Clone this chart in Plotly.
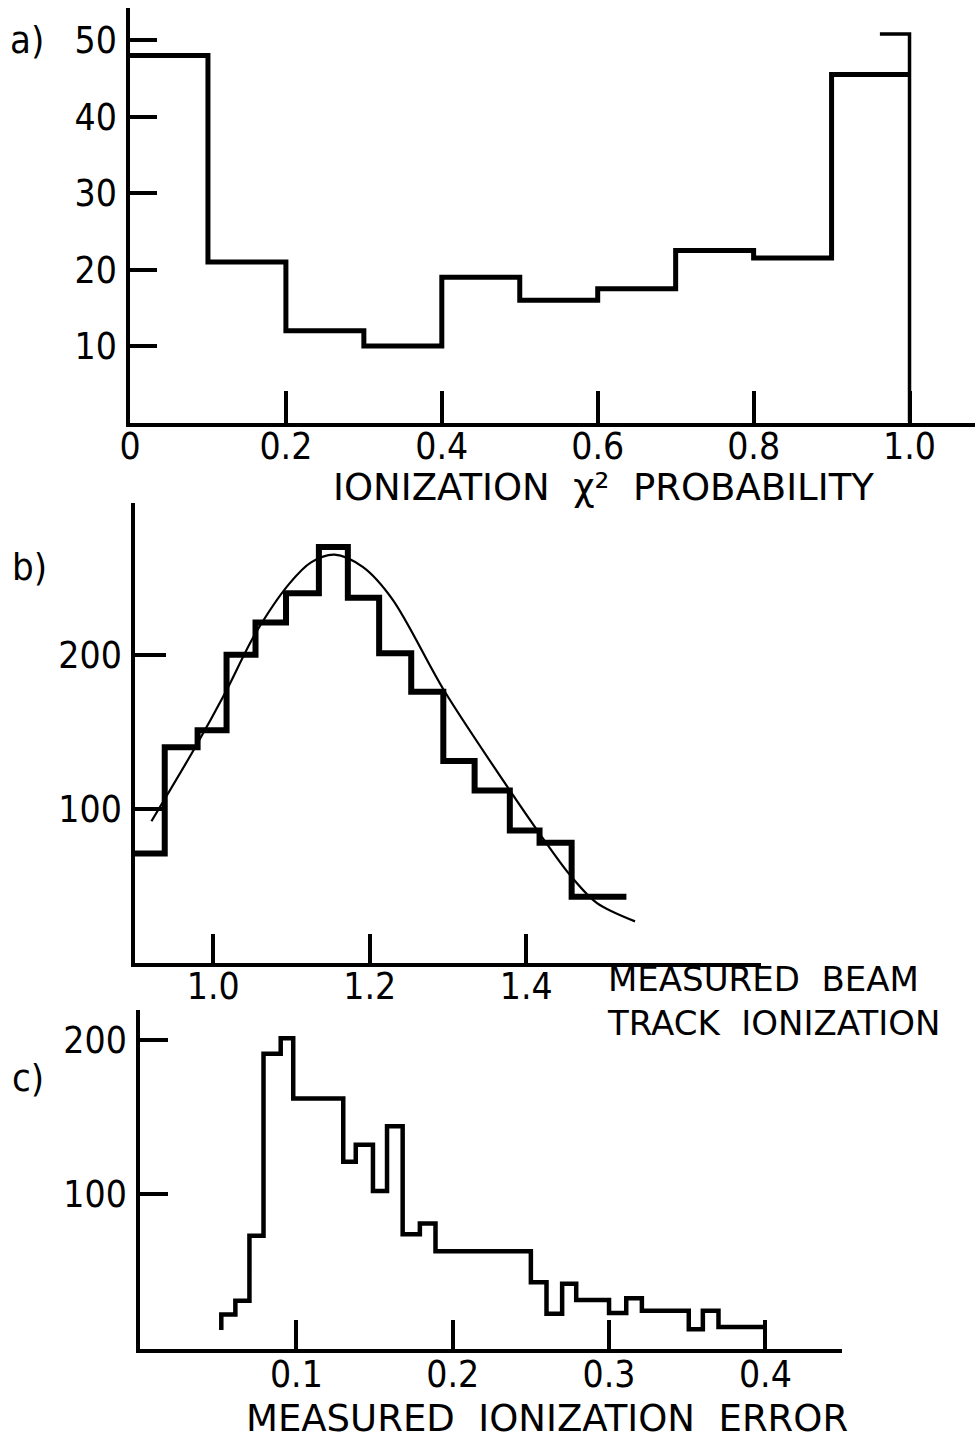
import plotly.graph_objects as go

W, H = 977, 1441
FONT = "DejaVu Sans Condensed, Liberation Sans Narrow, Arial Narrow, sans-serif"
TFONT = "DejaVu Sans, Liberation Sans, Arial, sans-serif"

# ---------- Panel a: ionization chi^2 probability ----------
a_edges = [0.0, 0.1, 0.2, 0.3, 0.4, 0.5, 0.6, 0.7, 0.8, 0.9, 1.0]
a_counts = [48, 21, 12, 10, 19, 16, 17.5, 22.5, 21.5, 45.5]
a_over_x = [1.0, 1.0, 0.962]
a_over_y = [0, 50.8, 50.8]
a_ticks = [0, 0.2, 0.4, 0.6, 0.8, 1.0]
a_ticktext = ["0", "0.2", "0.4", "0.6", "0.8", "1.0"]
a_yticks = [10, 20, 30, 40, 50]

# ---------- Panel b: measured beam track ionization ----------
b_edges = [0.900, 0.938, 0.980, 1.017, 1.054, 1.093, 1.135, 1.172, 1.212,
           1.253, 1.294, 1.334, 1.379, 1.417, 1.458, 1.528]
b_counts = [71, 140, 151, 200, 221, 240, 270, 237, 201, 176, 131, 112, 86, 78, 43]
b_fit_x = [0.921, 0.977, 1.016, 1.053, 1.097, 1.125, 1.155, 1.191, 1.229,
           1.296, 1.379, 1.417, 1.456, 1.490, 1.539]
b_fit_y = [92, 140, 176, 213, 246, 260, 265, 257, 236,
           176, 112, 84, 57, 39, 27]
b_ticks = [1.0, 1.2, 1.4]
b_ticktext = ["1.0", "1.2", "1.4"]
b_yticks = [100, 200]

# ---------- Panel c: measured ionization error ----------
c_edges = [0.052, 0.061, 0.070, 0.079, 0.090, 0.098, 0.130, 0.138, 0.149, 0.158,
           0.168, 0.179, 0.189, 0.250, 0.260, 0.270, 0.279, 0.300, 0.311, 0.321,
           0.351, 0.360, 0.370, 0.399]
c_counts = [22, 31, 73, 191, 201, 162, 121, 132, 102, 144, 74, 81, 63, 43,
            22.5, 42, 31.5, 23, 32.5, 24.5, 12.5, 24.5, 14]
c_start = 12
c_ticks = [0.1, 0.2, 0.3, 0.4]
c_ticktext = ["0.1", "0.2", "0.3", "0.4"]
c_yticks = [100, 200]


def px(x):
    return x / W


def py(y):
    return 1 - y / H


fig = go.Figure()

# panel a
fig.add_trace(go.Scatter(x=a_edges, y=a_counts + [a_counts[-1]], mode="lines",
                         line=dict(shape="hv", color="black", width=5),
                         xaxis="x", yaxis="y", showlegend=False))
fig.add_trace(go.Scatter(x=a_over_x, y=a_over_y, mode="lines",
                         line=dict(color="black", width=3.5),
                         xaxis="x", yaxis="y", showlegend=False))
# panel b
fig.add_trace(go.Scatter(x=b_edges, y=b_counts + [b_counts[-1]], mode="lines",
                         line=dict(shape="hv", color="black", width=6),
                         xaxis="x2", yaxis="y2", showlegend=False))
fig.add_trace(go.Scatter(x=b_fit_x, y=b_fit_y, mode="lines",
                         line=dict(shape="spline", smoothing=0.9, color="black", width=2.2),
                         xaxis="x2", yaxis="y2", showlegend=False))
# panel c
fig.add_trace(go.Scatter(x=[c_edges[0]] + c_edges, y=[c_start] + c_counts + [c_counts[-1]],
                         mode="lines", line=dict(shape="hv", color="black", width=4.5),
                         xaxis="x3", yaxis="y3", showlegend=False))

tickfont = dict(family=FONT, size=37, color="black")
common = dict(showline=True, linecolor="black", linewidth=3.5, ticks="inside",
              tickcolor="black", tickwidth=3.5, showgrid=False, zeroline=False,
              tickfont=tickfont, fixedrange=True, automargin=False)

fig.update_layout(
    width=W, height=H, margin=dict(l=0, r=0, t=0, b=0, autoexpand=False),
    paper_bgcolor="white", plot_bgcolor="white", showlegend=False,
    xaxis=dict(domain=[px(130), px(975)], range=[0, 1.084], anchor="y",
               tickvals=a_ticks, ticktext=a_ticktext, ticklen=32,
               ticklabelstandoff=-12, **common),
    yaxis=dict(domain=[py(422.5), py(8)], range=[0, 54.2], anchor="x",
               tickvals=a_yticks, ticklen=27, ticklabelstandoff=2, **common),
    xaxis2=dict(domain=[px(135), px(761)], range=[0.9, 1.70], anchor="y2",
                tickvals=b_ticks, ticktext=b_ticktext, ticklen=29,
                ticklabelstandoff=-12, **common),
    yaxis2=dict(domain=[py(963), py(503)], range=[0, 298.5], anchor="x2",
                tickvals=b_yticks, ticklen=31, ticklabelstandoff=2, **common),
    xaxis3=dict(domain=[px(140), px(842)], range=[0, 0.449], anchor="y3",
                tickvals=c_ticks, ticktext=c_ticktext, ticklen=29,
                ticklabelstandoff=-10, **common),
    yaxis3=dict(domain=[py(1348.5), py(1010)], range=[0, 219.3], anchor="x3",
                tickvals=c_yticks, ticklen=28, ticklabelstandoff=2, **common),
)

lab_font = dict(family=FONT, size=38, color="black")
ttl_font = dict(family=TFONT, size=37, color="black")
NB = "\u00a0"
annotations = [
    dict(text="a)", x=px(8), y=py(40), xanchor="left", yanchor="middle", font=lab_font),
    dict(text="b)", x=px(10), y=py(567), xanchor="left", yanchor="middle", font=lab_font),
    dict(text="c)", x=px(10), y=py(1078), xanchor="left", yanchor="middle", font=lab_font),
    dict(text="IONIZATION" + NB * 2 + "χ²" + NB * 2 + "PROBABILITY",
         x=px(603), y=py(488), xanchor="center", yanchor="middle", font=ttl_font),
    dict(text="MEASURED" + NB * 2 + "BEAM<br>TRACK" + NB * 2 + "IONIZATION",
         x=px(605), y=py(1001), xanchor="left", yanchor="middle", align="left",
         font=dict(family=TFONT, size=34, color="black")),
    dict(text="MEASURED" + NB * 2 + "IONIZATION" + NB * 2 + "ERROR",
         x=px(547), y=py(1418), xanchor="center", yanchor="middle", font=ttl_font),
]
for a in annotations:
    a.update(xref="paper", yref="paper", showarrow=False)
fig.update_layout(annotations=annotations)

fig.write_html("out.html", config={"displayModeBar": False},
               post_script="document.body.style.margin='0';document.body.style.padding='0';")
